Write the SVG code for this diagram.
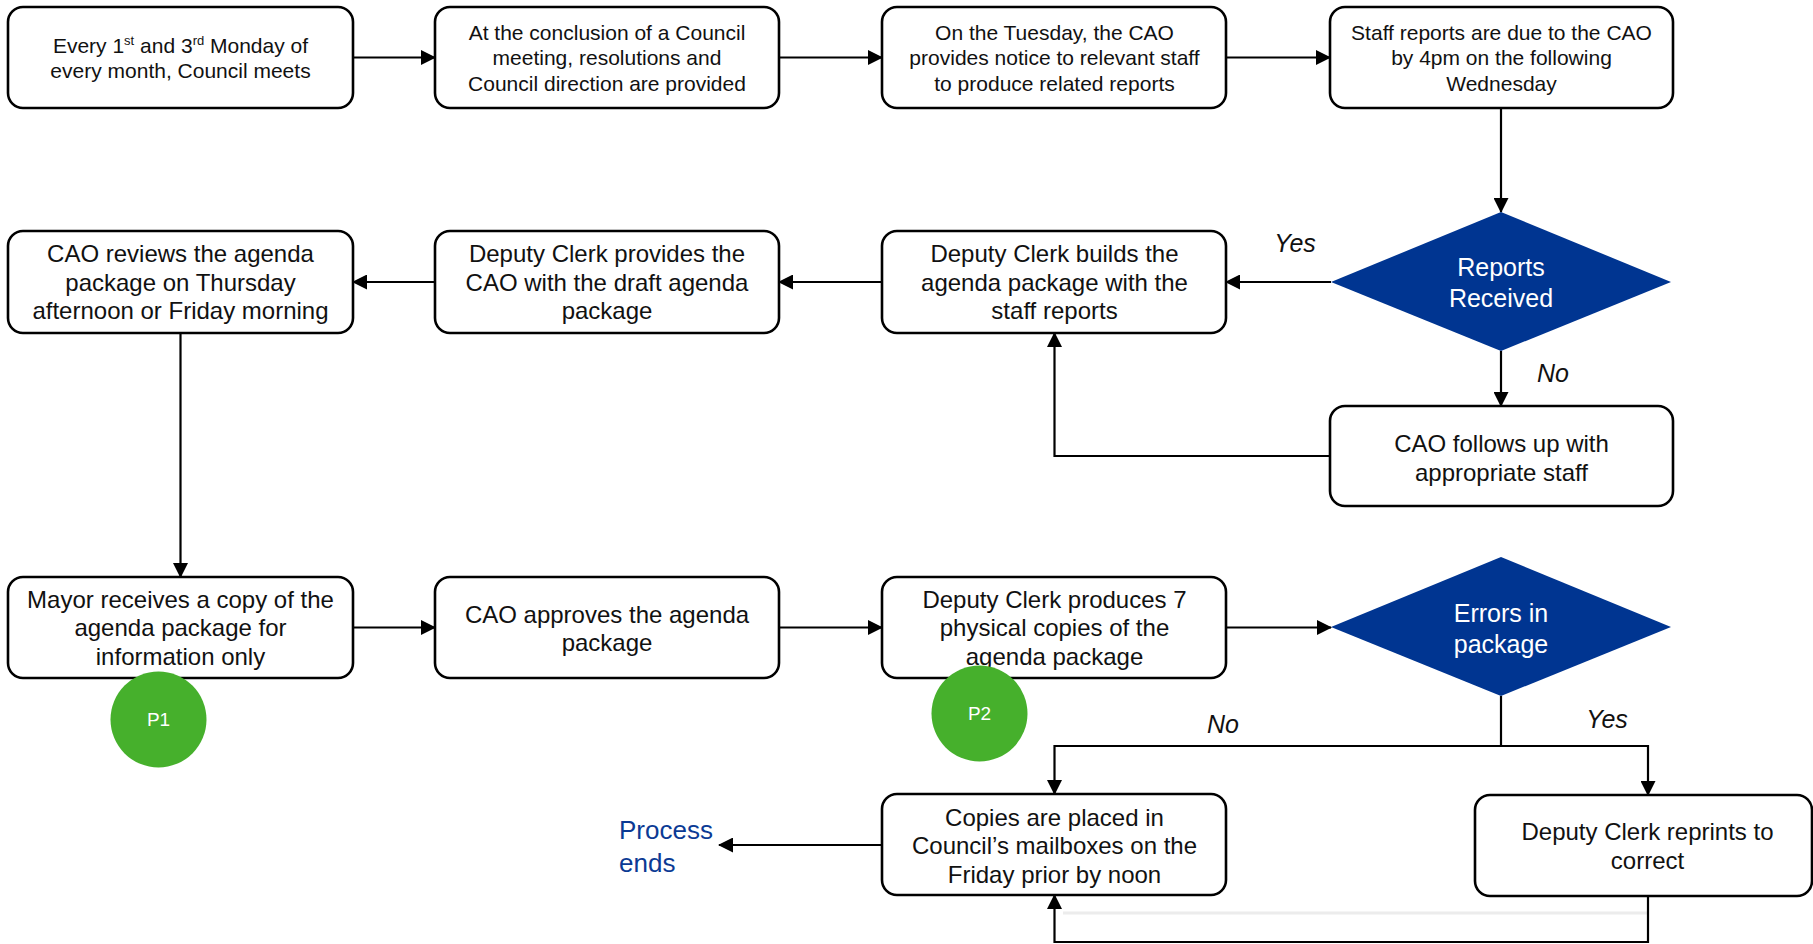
<svg xmlns="http://www.w3.org/2000/svg" width="1813" height="944" viewBox="0 0 1813 944">
  <style>
    .box { fill: #ffffff; stroke: #000000; stroke-width: 2.6; }
    .dia { fill: #003591; stroke: none; }
    .t { font-family: "Liberation Sans", Arial, sans-serif; fill: #111111; text-anchor: middle; }
    .s21 { font-size: 21px; }
    .s24 { font-size: 24px; }
    .dt { font-family: "Liberation Sans", Arial, sans-serif; font-size: 25px; fill: #ffffff; text-anchor: middle; }
    .lbl { font-family: "Liberation Sans", Arial, sans-serif; font-size: 25px; font-style: italic; fill: #111111; text-anchor: middle; }
    .end { font-family: "Liberation Sans", Arial, sans-serif; font-size: 26px; fill: #0b3a94; }
    .pin { fill: #46b02c; }
    .pt { font-family: "Liberation Sans", Arial, sans-serif; font-size: 19px; fill: #ffffff; text-anchor: middle; }
    .ln { fill: none; stroke: #000000; stroke-width: 2.2; }
  </style>
  <defs>
    <marker id="arr" markerUnits="userSpaceOnUse" markerWidth="15" markerHeight="15" refX="14" refY="7.5" orient="auto">
      <path d="M0,0 L15,7.5 L0,15 Z" fill="#000000"/>
    </marker>
  </defs>

  <rect width="1813" height="944" fill="#ffffff"/>

  <!-- connectors -->
  <g id="connectors">
    <path class="ln" d="M353,57.5 H435" marker-end="url(#arr)"/>
    <path class="ln" d="M779,57.5 H882" marker-end="url(#arr)"/>
    <path class="ln" d="M1226,57.5 H1330" marker-end="url(#arr)"/>
    <path class="ln" d="M1501,108 V212" marker-end="url(#arr)"/>
    <path class="ln" d="M1331,282 H1226" marker-end="url(#arr)"/>
    <path class="ln" d="M1501,351 V406" marker-end="url(#arr)"/>
    <path class="ln" d="M1330,456 H1054.5 V333" marker-end="url(#arr)"/>
    <path class="ln" d="M882,282 H779" marker-end="url(#arr)"/>
    <path class="ln" d="M435,282 H353" marker-end="url(#arr)"/>
    <path class="ln" d="M180.5,333 V577" marker-end="url(#arr)"/>
    <path class="ln" d="M353,627.5 H435" marker-end="url(#arr)"/>
    <path class="ln" d="M779,627.5 H882" marker-end="url(#arr)"/>
    <path class="ln" d="M1226,627.5 H1331" marker-end="url(#arr)"/>
    <path class="ln" d="M1501,696 V746"/>
    <path class="ln" d="M1501,746 H1054.5 V794" marker-end="url(#arr)"/>
    <path class="ln" d="M1501,746 H1648 V795" marker-end="url(#arr)"/>
    <path class="ln" d="M882,845 H719" marker-end="url(#arr)"/>
    <path d="M1063,913 H1648" fill="none" stroke="#ececec" stroke-width="3"/>
    <path class="ln" d="M1648,896 V942 H1054.5 V895" marker-end="url(#arr)"/>
    <text class="lbl" x="1295" y="252">Yes</text>
    <text class="lbl" x="1553" y="382">No</text>
    <text class="lbl" x="1223" y="733">No</text>
    <text class="lbl" x="1607" y="728">Yes</text>
  </g>

  <!-- row 1 -->
  <g id="council-meets">
    <rect class="box" x="8" y="7" width="345" height="101" rx="15"/>
    <text class="t s21" x="180.5" y="52.5">Every 1<tspan font-size="13" dy="-8">st</tspan><tspan dy="8"> and 3</tspan><tspan font-size="13" dy="-8">rd</tspan><tspan dy="8"> Monday of</tspan></text>
    <text class="t s21" x="180.5" y="78">every month, Council meets</text>
  </g>
  <g id="resolutions">
    <rect class="box" x="435" y="7" width="344" height="101" rx="15"/>
    <text class="t s21" x="607" y="40">At the conclusion of a Council</text>
    <text class="t s21" x="607" y="65">meeting, resolutions and</text>
    <text class="t s21" x="607" y="90.5">Council direction are provided</text>
  </g>
  <g id="cao-notice">
    <rect class="box" x="882" y="7" width="344" height="101" rx="15"/>
    <text class="t s21" x="1054.5" y="40">On the Tuesday, the CAO</text>
    <text class="t s21" x="1054.5" y="65">provides notice to relevant staff</text>
    <text class="t s21" x="1054.5" y="90.5">to produce related reports</text>
  </g>
  <g id="reports-due">
    <rect class="box" x="1330" y="7" width="343" height="101" rx="15"/>
    <text class="t s21" x="1501.5" y="40">Staff reports are due to the CAO</text>
    <text class="t s21" x="1501.5" y="65">by 4pm on the following</text>
    <text class="t s21" x="1501.5" y="90.5">Wednesday</text>
  </g>

  <!-- row 2 -->
  <g id="reports-received">
    <polygon class="dia" points="1331,282 1501,212 1671,282 1501,351"/>
    <text class="dt" x="1501" y="276">Reports</text>
    <text class="dt" x="1501" y="307">Received</text>
  </g>
  <g id="build-package">
    <rect class="box" x="882" y="231" width="344" height="102" rx="15"/>
    <text class="t s24" x="1054.5" y="262">Deputy Clerk builds the</text>
    <text class="t s24" x="1054.5" y="290.5">agenda package with the</text>
    <text class="t s24" x="1054.5" y="319">staff reports</text>
  </g>
  <g id="draft-package">
    <rect class="box" x="435" y="231" width="344" height="102" rx="15"/>
    <text class="t s24" x="607" y="262">Deputy Clerk provides the</text>
    <text class="t s24" x="607" y="290.5">CAO with the draft agenda</text>
    <text class="t s24" x="607" y="319">package</text>
  </g>
  <g id="cao-reviews">
    <rect class="box" x="8" y="231" width="345" height="102" rx="15"/>
    <text class="t s24" x="180.5" y="262">CAO reviews the agenda</text>
    <text class="t s24" x="180.5" y="290.5">package on Thursday</text>
    <text class="t s24" x="180.5" y="319">afternoon or Friday morning</text>
  </g>
  <g id="follow-up">
    <rect class="box" x="1330" y="406" width="343" height="100" rx="15"/>
    <text class="t s24" x="1501.5" y="451.5">CAO follows up with</text>
    <text class="t s24" x="1501.5" y="480.5">appropriate staff</text>
  </g>

  <!-- row 3 -->
  <g id="mayor-copy">
    <rect class="box" x="8" y="577" width="345" height="101" rx="15"/>
    <text class="t s24" x="180.5" y="607.5">Mayor receives a copy of the</text>
    <text class="t s24" x="180.5" y="636">agenda package for</text>
    <text class="t s24" x="180.5" y="664.5">information only</text>
  </g>
  <g id="cao-approves">
    <rect class="box" x="435" y="577" width="344" height="101" rx="15"/>
    <text class="t s24" x="607" y="622.5">CAO approves the agenda</text>
    <text class="t s24" x="607" y="650.5">package</text>
  </g>
  <g id="physical-copies">
    <rect class="box" x="882" y="577" width="344" height="101" rx="15"/>
    <text class="t s24" x="1054.5" y="607.5">Deputy Clerk produces 7</text>
    <text class="t s24" x="1054.5" y="636">physical copies of the</text>
    <text class="t s24" x="1054.5" y="664.5">agenda package</text>
  </g>
  <g id="errors-in-package">
    <polygon class="dia" points="1331,627 1501,557 1671,627 1501,696"/>
    <text class="dt" x="1501" y="622">Errors in</text>
    <text class="dt" x="1501" y="653">package</text>
  </g>

  <!-- row 4 -->
  <g id="mailboxes">
    <rect class="box" x="882" y="794" width="344" height="101" rx="15"/>
    <text class="t s24" x="1054.5" y="825.5">Copies are placed in</text>
    <text class="t s24" x="1054.5" y="853.5">Council’s mailboxes on the</text>
    <text class="t s24" x="1054.5" y="882.5">Friday prior by noon</text>
  </g>
  <g id="reprint">
    <rect class="box" x="1475" y="795" width="337" height="101" rx="15"/>
    <text class="t s24" x="1647.5" y="839.5">Deputy Clerk reprints to</text>
    <text class="t s24" x="1647.5" y="868.5">correct</text>
  </g>
  <g id="process-ends">
    <text class="end" x="619" y="839">Process</text>
    <text class="end" x="619" y="871.5">ends</text>
  </g>

  <!-- markers -->
  <g id="p1">
    <circle class="pin" cx="158.5" cy="719.5" r="48"/>
    <text class="pt" x="158.5" y="726">P1</text>
  </g>
  <g id="p2">
    <circle class="pin" cx="979.5" cy="713.5" r="48"/>
    <text class="pt" x="979.5" y="720">P2</text>
  </g>
</svg>
